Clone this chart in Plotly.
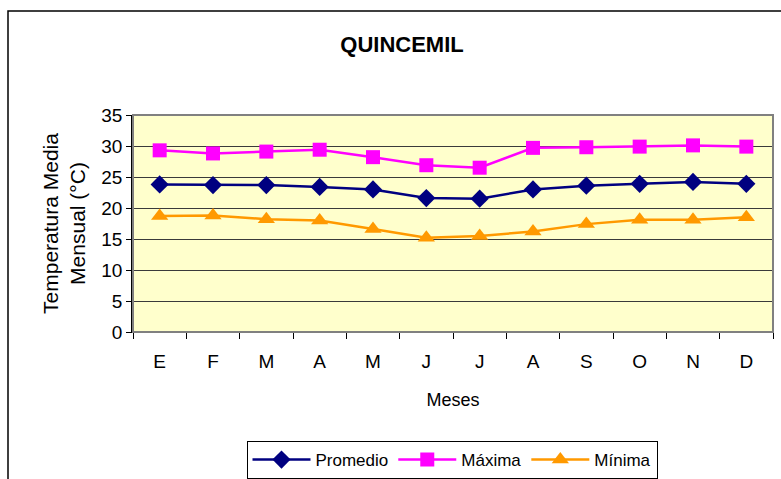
import plotly.graph_objects as go

# Monthly temperature series for Quincemil (°C)
meses = ["E", "F", "M", "A", "M", "J", "J", "A", "S", "O", "N", "D"]
promedio = [23.8, 23.7, 23.7, 23.4, 23.0, 21.6, 21.5, 23.0, 23.6, 23.9, 24.2, 23.9]
maxima = [29.3, 28.8, 29.1, 29.4, 28.2, 26.9, 26.5, 29.7, 29.8, 29.9, 30.1, 29.9]
minima = [18.7, 18.8, 18.2, 18.0, 16.6, 15.2, 15.5, 16.2, 17.4, 18.1, 18.1, 18.5]
y_ticks = [0, 5, 10, 15, 20, 25, 30, 35]

W, H = 781, 479
L, R, T, B = 133, 8, 115, 147
pw, ph = W - L - R, H - T - B

x = list(range(len(meses)))
font = "Liberation Sans, Arial, sans-serif"

fig = go.Figure()
fig.add_trace(go.Scatter(
    x=x, y=promedio, name="Promedio", mode="lines+markers",
    line=dict(color="#000080", width=2.5),
    marker=dict(symbol="diamond", size=14, color="#000080"),
))
fig.add_trace(go.Scatter(
    x=x, y=maxima, name="Máxima", mode="lines+markers",
    line=dict(color="#FF00FF", width=2.5),
    marker=dict(symbol="square", size=14, color="#FF00FF"),
))
fig.add_trace(go.Scatter(
    x=x, y=minima, name="Mínima", mode="lines+markers",
    line=dict(color="#FF9900", width=2.5),
    marker=dict(symbol="triangle-up", size=15, color="#FF9900"),
))

def px_x(p):
    return (p - L) / pw

def px_y(p):
    return 1 - (p - T) / ph

shapes = [
    # outer chart frame
    dict(type="rect", xref="paper", yref="paper",
         x0=px_x(8), x1=px_x(W + 20), y0=px_y(11), y1=px_y(H + 20),
         line=dict(color="black", width=1.5), layer="below"),
    # plot area border
    dict(type="rect", xref="paper", yref="paper",
         x0=0, x1=1, y0=0, y1=1,
         line=dict(color="#808080", width=2), layer="above"),
]

fig.update_layout(
    width=W, height=H,
    margin=dict(l=L, r=R, t=T, b=B, autoexpand=False),
    paper_bgcolor="white",
    plot_bgcolor="#FFFFCC",
    font=dict(family=font, color="black", size=18),
    title=dict(text="<b>QUINCEMIL</b>", x=402 / W, xanchor="center",
               y=1 - 44 / H, yanchor="middle",
               font=dict(family=font, size=22, color="black")),
    xaxis=dict(
        tickmode="array", tickvals=x, ticktext=meses,
        range=[-0.5, len(meses) - 0.5],
        showgrid=False, zeroline=False, automargin=False,
        showline=True, linecolor="black", linewidth=1,
        ticks="", ticklen=5, tickcolor="black",
        ticklabelstandoff=12,
        minor=dict(tickmode="array", tickvals=[i - 0.5 for i in range(len(meses) + 1)],
                   ticks="outside", ticklen=6, tickcolor="black", showgrid=False),
        title=dict(text="Meses", standoff=22, font=dict(size=18)),
        tickfont=dict(size=19),
    ),
    yaxis=dict(
        range=[0, 35], tickvals=y_ticks,
        showgrid=True, gridcolor="#3a3a3a", gridwidth=1,
        zeroline=False, automargin=False,
        showline=True, linecolor="black", linewidth=1.5,
        ticks="outside", ticklen=5, tickcolor="black",
        title=dict(text="Temperatura Media<br>Mensual (°C)", standoff=10, font=dict(size=21)),
        tickfont=dict(size=19),
    ),
    legend=dict(
        orientation="h", x=(452 - L) / pw, xanchor="center",
        y=px_y(441), yanchor="top",
        bordercolor="black", borderwidth=1, bgcolor="white",
        font=dict(size=17), itemwidth=58,
    ),
    shapes=shapes,
    showlegend=True,
)

fig.write_html("out.html")
